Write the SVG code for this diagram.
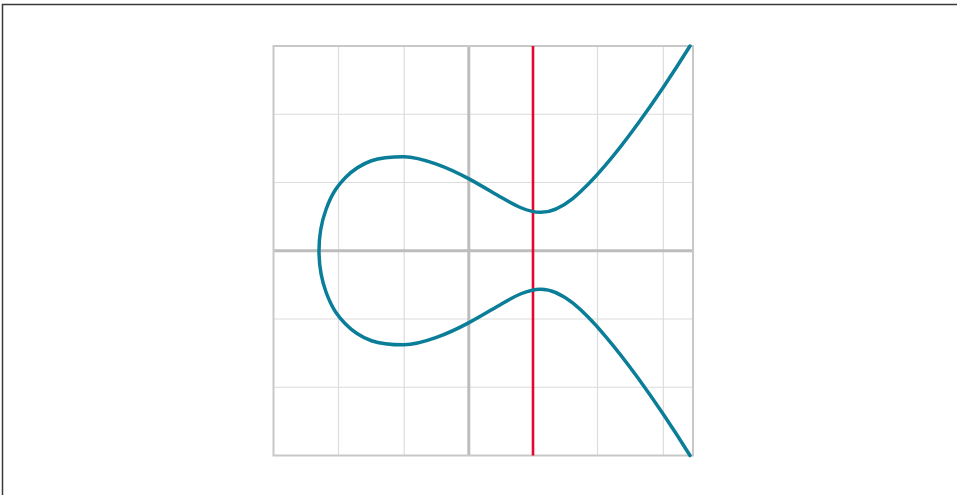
<svg xmlns="http://www.w3.org/2000/svg" width="957" height="495" viewBox="0 0 957 495">
<style>
.frame{fill:none;stroke:#3a3a3a;stroke-width:1.5}
.grid{stroke:#dcdcdc;stroke-width:1.2;fill:none}
.axis{stroke:#bdbdbd;stroke-width:3;fill:none}
.border{stroke:#c8c8c8;stroke-width:2;fill:none}
.vline{stroke:#e4062c;stroke-width:2.6;fill:none}
.curve{stroke:#0a7e98;stroke-width:3.5;fill:none;stroke-linecap:round;stroke-linejoin:round}
</style>
<rect width="957" height="495" fill="#ffffff"/>
<path class="frame" d="M2.5 495 V4.5 H957"/>
<g id="grid">
<path class="grid" d="M338.5 46 V455.5 M404.2 46 V455.5 M533 46 V455.5 M597.5 46 V455.5 M663.3 46 V455.5 M273.5 114.25 H693 M273.5 182.5 H693 M273.5 319 H693 M273.5 387.25 H693"/>
<path class="axis" d="M468.8 46 V455.5 M273.5 250.75 H693"/>
<rect class="border" x="273.5" y="46" width="419.5" height="409.5"/>
</g>
<g id="connectors">
<path id="vertical-line" class="vline" d="M533 46 V455.5"/>
</g>
<g id="elliptic-curve">
<path class="curve" d="M690 455.45 C681.33 441.63 672.67 428.22 664 415.29 C655.33 402.36 646.67 389.89 638 377.98 C627.17 363.09 616.33 349.04 605.5 336.28 C594.67 323.52 583.83 311.96 573 303.22 C562.17 294.48 551.33 289.04 540.5 289.13 C527.5 289.23 514.5 296.44 501.5 303.93 C490.67 310.17 479.83 316.79 469 322.61 C458.17 328.43 447.33 333.53 436.5 337.38 C425.67 341.23 414.83 344.8 404 344.8 C393.17 344.8 382.33 344.63 371.5 340.76 C362.83 337.67 354.17 332.84 345.5 323.97 C339 317.32 332.5 309.92 326 292.01 Q319 272.72 319 250.75 T326 209.49 C332.5 191.58 339 184.18 345.5 177.53 C354.17 168.66 362.83 163.83 371.5 160.74 C382.33 156.87 393.17 156.7 404 156.7 C414.83 156.7 425.67 160.27 436.5 164.12 C447.33 167.97 458.17 173.07 469 178.89 C479.83 184.71 490.67 191.33 501.5 197.57 C514.5 205.06 527.5 212.27 540.5 212.37 C551.33 212.46 562.17 207.02 573 198.28 C583.83 189.54 594.67 177.98 605.5 165.22 C616.33 152.46 627.17 138.41 638 123.52 C646.67 111.61 655.33 99.14 664 86.21 C672.67 73.28 681.33 59.87 690 46.05"/>
</g>
</svg>
